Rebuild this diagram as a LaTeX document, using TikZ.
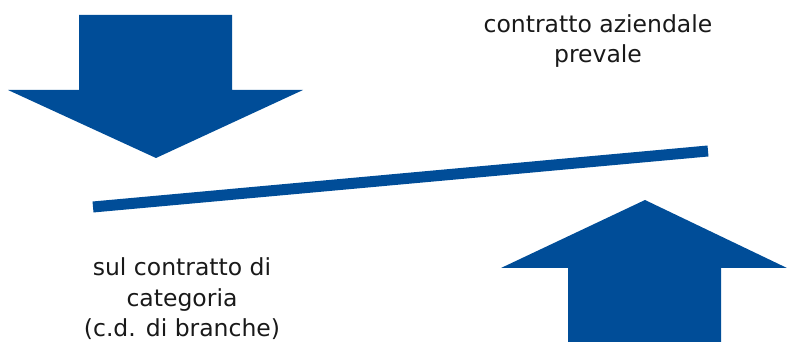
\documentclass[tikz,border=0pt]{standalone}
\usepackage{fontspec}
\setmainfont{DejaVu Sans}
\definecolor{ArrowBlue}{RGB}{0,77,152}
\usetikzlibrary{positioning}

\begin{document}
\begin{tikzpicture}[x=1pt, y=-1pt,
    labeltext/.style={font=\fontsize{23.5}{30.5}\selectfont, align=center, text=black!90, inner sep=0pt}]
    \useasboundingbox (0,0) rectangle (787,344);

    % Down arrow (top left)
    \fill[ArrowBlue] (79,15) -- (232,15) -- (232,90) -- (303,90) -- (156,158)
        -- (8,90) -- (79,90) -- cycle;

    % Up arrow (bottom right)
    \fill[ArrowBlue] (568,342) -- (721,342) -- (721,268) -- (787,268) -- (645,200)
        -- (501,268) -- (568,268) -- cycle;

    % Tilted beam
    \coordinate (lowend) at (93,207);
    \coordinate (highend) at (708,151);
    \draw[ArrowBlue, line width=11pt] (lowend) -- (highend);

    % Labels (base = baseline of the last line)
    \node[labeltext, anchor=base] (aziendale) at (598,63) {contratto aziendale\\prevale};
    \node[labeltext, anchor=base] (categoria) at (182,337) {sul contratto di\\categoria\\(c.d. di branche)};
\end{tikzpicture}
\end{document}
